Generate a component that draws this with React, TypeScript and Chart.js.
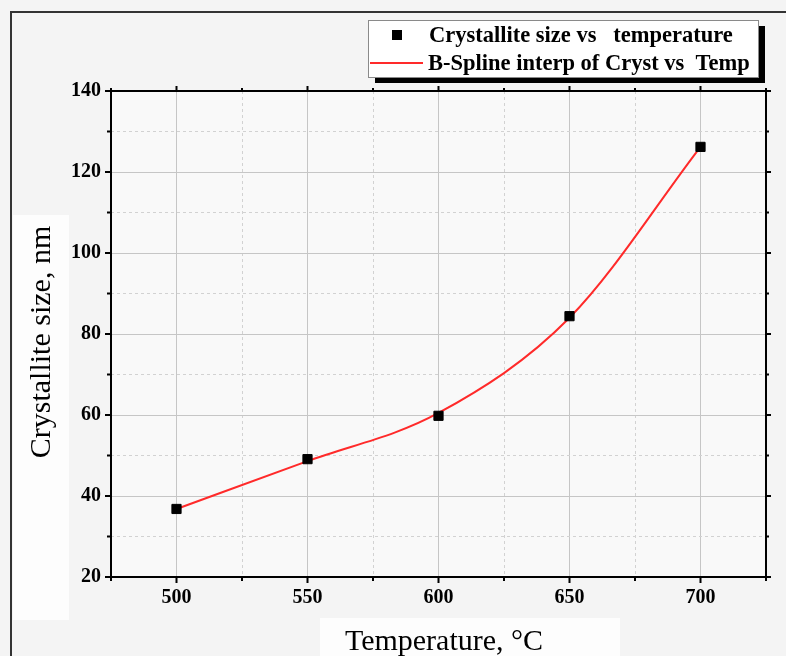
import React, { useEffect, useRef } from "react";
import { Chart, registerables } from "chart.js";

Chart.register(...registerables);

const temperatures = [500, 550, 600, 650, 700];
const crystalliteSize = [36.8, 49.1, 59.8, 84.4, 126.2];
const splineSize = [36.8, 48.6, 60.5, 84.0, 126.2];
const legendLabels = ["Crystallite size vs   temperature", "B-Spline interp of Cryst vs  Temp"];
const xAxisTitle = "Temperature, °C";
const yAxisTitle = "Crystallite size, nm";

const SERIF = '"Liberation Serif", "Times New Roman", serif';

const decorPlugin = {
  id: "decor",
  beforeDraw(chart: any) {
    const { ctx, chartArea: a, width, height } = chart;
    ctx.save();
    ctx.fillStyle = "#f4f4f4";
    ctx.fillRect(0, 0, width, height);
    ctx.fillStyle = "#f9f9f9";
    ctx.fillRect(a.left, a.top, a.right - a.left, a.bottom - a.top);
    ctx.restore();
  },
  afterDraw(chart: any) {
    const { ctx, chartArea: a } = chart;
    const xs = chart.scales.x;
    const ys = chart.scales.y;
    ctx.save();
    // outer frame
    ctx.strokeStyle = "#333";
    ctx.lineWidth = 2;
    ctx.beginPath();
    ctx.moveTo(11, 656);
    ctx.lineTo(11, 12);
    ctx.lineTo(786, 12);
    ctx.stroke();

    // tick marks
    ctx.strokeStyle = "#000";
    ctx.lineWidth = 2;
    ctx.beginPath();
    xs.ticks.forEach((t: any) => {
      const px = xs.getPixelForValue(t.value);
      const len = t.value % 50 === 0 ? 6 : 4;
      ctx.moveTo(px, a.bottom);
      ctx.lineTo(px, a.bottom + len);
      ctx.moveTo(px, a.top);
      ctx.lineTo(px, a.top - len + 1);
    });
    ys.ticks.forEach((t: any) => {
      const py = ys.getPixelForValue(t.value);
      const len = t.value % 20 === 0 ? 6 : 4;
      ctx.moveTo(a.left, py);
      ctx.lineTo(a.left - len, py);
      ctx.moveTo(a.right, py);
      ctx.lineTo(a.right + len - 1, py);
    });
    ctx.stroke();
    // axes box
    ctx.strokeRect(a.left, a.top, a.right - a.left, a.bottom - a.top);

    // axis titles with white boxes
    ctx.fillStyle = "#fdfdfd";
    ctx.fillRect(320, 618, 300, 38);
    ctx.fillRect(13, 215, 56, 405);
    ctx.fillStyle = "#000";
    ctx.font = `30px ${SERIF}`;
    ctx.textAlign = "center";
    ctx.textBaseline = "alphabetic";
    ctx.fillText(xAxisTitle, 444, 650);
    ctx.save();
    ctx.translate(50, 342);
    ctx.rotate(-Math.PI / 2);
    ctx.fillText(yAxisTitle, 0, 0);
    ctx.restore();

    // legend
    const bx = 368, by = 20, bw = 390, bh = 57;
    ctx.fillStyle = "#000";
    ctx.fillRect(bx + 7, by + 6, bw, bh);
    ctx.fillStyle = "#ffffff";
    ctx.fillRect(bx, by, bw, bh);
    ctx.strokeStyle = "#8a8a8a";
    ctx.lineWidth = 1;
    ctx.strokeRect(bx + 0.5, by + 0.5, bw, bh);
    // marker
    ctx.fillStyle = "#000";
    ctx.fillRect(392, 30, 10, 10);
    // line
    ctx.strokeStyle = "#ff2a2a";
    ctx.lineWidth = 2;
    ctx.beginPath();
    ctx.moveTo(370, 63);
    ctx.lineTo(423, 63);
    ctx.stroke();
    ctx.fillStyle = "#000";
    ctx.font = `bold 22.5px ${SERIF}`;
    ctx.textAlign = "left";
    ctx.textBaseline = "middle";
    const labels = chart.data.datasets.map((d: any) => d.label);
    ctx.fillText(labels[0], 429, 36);
    ctx.fillText(labels[1], 428, 64);
    ctx.restore();
  },
};

export default function App() {
  const ref = useRef<HTMLCanvasElement | null>(null);
  useEffect(() => {
    document.body.style.margin = "0";
    const canvas = ref.current!;
    const chart = new Chart(canvas, {
      type: "scatter",
      data: {
        datasets: [
          {
            label: legendLabels[0],
            data: temperatures.map((t, i) => ({ x: t, y: crystalliteSize[i] })),
            pointStyle: "rect",
            pointRadius: 6.5,
            pointBackgroundColor: "#000",
            pointBorderColor: "#000",
            pointBorderWidth: 1,
            showLine: false,
            order: 0,
          },
          {
            label: legendLabels[1],
            data: temperatures.map((t, i) => ({ x: t, y: splineSize[i] })),
            showLine: true,
            borderColor: "#ff2a2a",
            borderWidth: 2,
            pointRadius: 0,
            tension: 0.4,
            cubicInterpolationMode: "monotone",
            order: 1,
          } as any,
        ],
      },
      options: {
        animation: false,
        responsive: false,
        layout: { padding: { top: 91, right: 20, left: 0, bottom: 0 } },
        plugins: { legend: { display: false }, tooltip: { enabled: false } },
        scales: {
          x: {
            type: "linear",
            min: 475,
            max: 725,
            afterFit(s: any) {
              s.height = 79;
            },
            ticks: {
              stepSize: 25,
              autoSkip: false,
              maxRotation: 0,
              padding: 9,
              color: "#000",
              font: { family: SERIF, size: 20, weight: "bold" },
              callback: (v: any) => (Number(v) % 50 === 0 ? String(v) : ""),
            },
            grid: {
              drawTicks: false,
              lineWidth: 1,
              color: (c: any) => (c.tick && c.tick.value % 50 === 0 ? "#c6c6c6" : "#d2d2d2"),
            },
            border: {
              display: false,
              dash: (c: any) => (c.tick && c.tick.value % 50 === 0 ? [] : [3, 3]),
            },
          },
          y: {
            type: "linear",
            min: 20,
            max: 140,
            afterFit(s: any) {
              s.width = 111;
            },
            ticks: {
              stepSize: 10,
              autoSkip: false,
              padding: 10,
              color: "#000",
              font: { family: SERIF, size: 20, weight: "bold" },
              callback: (v: any) => (Number(v) % 20 === 0 ? String(v) : ""),
            },
            grid: {
              drawTicks: false,
              lineWidth: 1,
              color: (c: any) => (c.tick && c.tick.value % 20 === 0 ? "#c6c6c6" : "#d2d2d2"),
            },
            border: {
              display: false,
              dash: (c: any) => (c.tick && c.tick.value % 20 === 0 ? [] : [3, 3]),
            },
          },
        },
      } as any,
      plugins: [decorPlugin],
    });
    return () => chart.destroy();
  }, []);
  return <canvas ref={ref} width={786} height={656} style={{ display: "block" }} />;
}
